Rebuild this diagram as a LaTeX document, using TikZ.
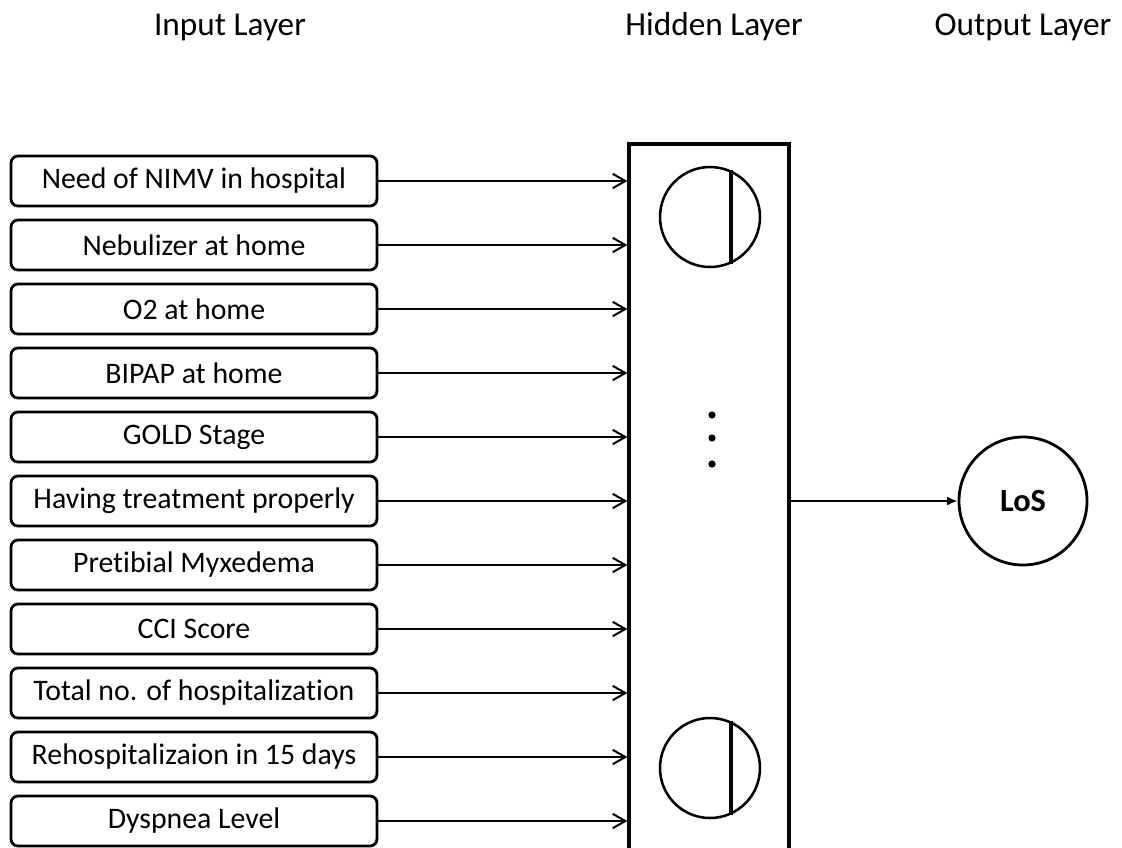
\documentclass[tikz,border=0pt]{standalone}
\usepackage{fontspec}
\setmainfont{Carlito}[Ligatures=NoCommon]
\usetikzlibrary{arrows.meta}

\begin{document}
\begin{tikzpicture}[
  inp/.style={draw, rounded corners=5pt, line width=2pt, minimum width=9.15cm, minimum height=1.25cm, font=\fontsize{21.2}{25}\selectfont},
  hidbox/.style={draw, line width=2.2pt, minimum width=4cm, minimum height=19cm},
  neuron/.style={draw, circle, line width=1.8pt, minimum size=2.5cm},
  outnode/.style={draw, circle, line width=2pt, minimum size=3.2cm, font=\fontsize{23}{27}\selectfont\bfseries},
  note/.style={anchor=base, font=\fontsize{23.7}{28}\selectfont},
  feed/.style={line width=1.4pt, -{Straight Barb[length=3.2mm, width=3.6mm, line width=1.4pt]}},
  res/.style={line width=1.4pt, -{Latex[length=2.6mm, width=2.2mm]}}
]
  \useasboundingbox (0,0) rectangle (28.05,-21.175);

  \node[note] (t1) at (5.75,-0.875) {Input Layer};
  \node[note] (t2) at (17.85,-0.875) {Hidden Layer};
  \node[note] (t3) at (25.575,-0.875) {Output Layer};

  \node[inp] (i1) at (4.85,-4.525) {Need of NIMV in hospital};
  \node[inp] (i2) at (4.85,-6.125) {Nebulizer at home};
  \node[inp] (i3) at (4.85,-7.725) {O2 at home};
  \node[inp] (i4) at (4.85,-9.325) {BIPAP at home};
  \node[inp] (i5) at (4.85,-10.925) {GOLD Stage};
  \node[inp] (i6) at (4.85,-12.525) {Having treatment properly};
  \node[inp] (i7) at (4.85,-14.125) {Pretibial Myxedema};
  \node[inp] (i8) at (4.85,-15.725) {CCI Score};
  \node[inp] (i9) at (4.85,-17.325) {Total no. of hospitalization};
  \node[inp] (i10) at (4.85,-18.925) {Rehospitalizaion in 15 days};
  \node[inp] (i11) at (4.85,-20.525) {Dyspnea Level};

  \node[hidbox] (hid) at (17.725,-13.1) {};
  \node[neuron] (n1) at (17.75,-5.425) {};
  \node[neuron] (n2) at (17.75,-19.2) {};
  \draw[line width=2.6pt] (n1.66.4) -- (n1.-66.4);
  \draw[line width=2.6pt] (n2.66.4) -- (n2.-66.4);
  \fill (17.8,-10.375) circle (0.09);
  \fill (17.8,-10.95) circle (0.09);
  \fill (17.8,-11.6) circle (0.09);

  \node[outnode] (los) at (25.575,-12.525) {LoS};

  \draw[feed] (i1.east) -- (i1.east -| hid.west);
  \draw[feed] (i2.east) -- (i2.east -| hid.west);
  \draw[feed] (i3.east) -- (i3.east -| hid.west);
  \draw[feed] (i4.east) -- (i4.east -| hid.west);
  \draw[feed] (i5.east) -- (i5.east -| hid.west);
  \draw[feed] (i6.east) -- (i6.east -| hid.west);
  \draw[feed] (i7.east) -- (i7.east -| hid.west);
  \draw[feed] (i8.east) -- (i8.east -| hid.west);
  \draw[feed] (i9.east) -- (i9.east -| hid.west);
  \draw[feed] (i10.east) -- (i10.east -| hid.west);
  \draw[feed] (i11.east) -- (i11.east -| hid.west);
  \draw[res] (hid.east |- los) -- (los.west);
\end{tikzpicture}
\end{document}
